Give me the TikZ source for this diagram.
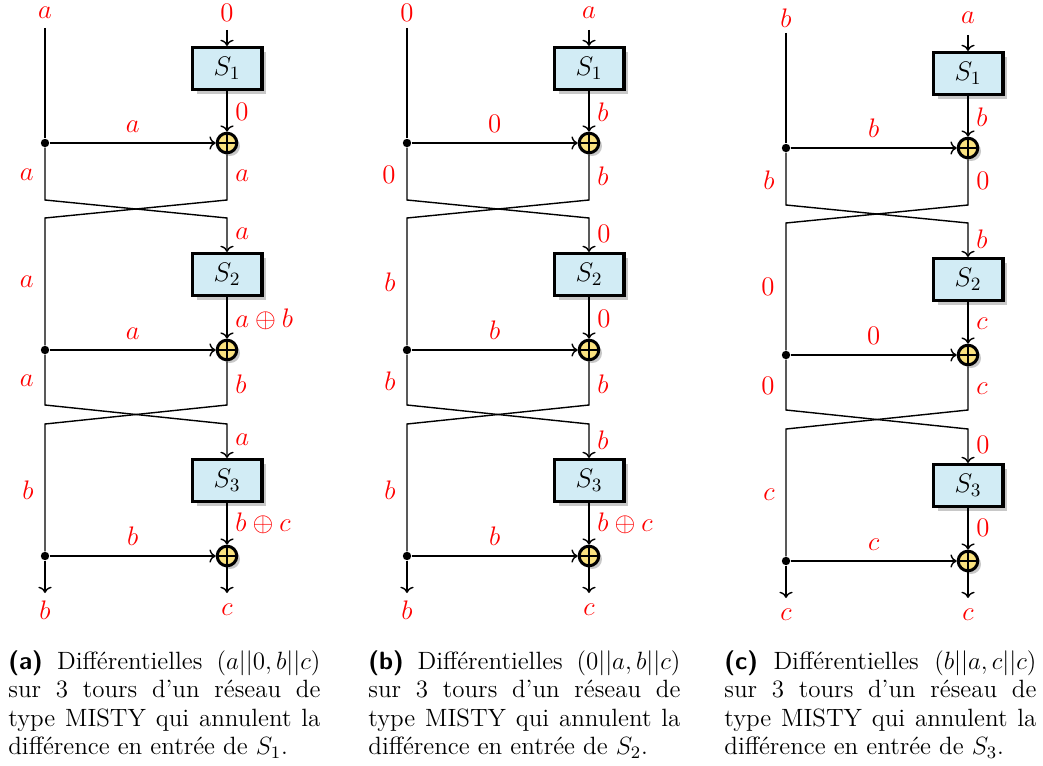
\RequirePackage{fix-cm}
\documentclass[tikz,border=0pt]{standalone}
\usepackage{fontspec}
\usetikzlibrary{shadows,arrows.meta}
\definecolor{sboxfill}{RGB}{210,236,245}
\definecolor{xorfill}{RGB}{250,226,128}
\definecolor{shadowgray}{RGB}{200,200,200}
\newcommand\lblsize{\fontsize{13.4}{15}\selectfont}
\tikzset{
  wire/.style={line width=0.7pt},
  arr/.style={wire,->},
  sbox/.style={draw, line width=1.6pt, fill=sboxfill, minimum width=34.9pt,
    minimum height=20.9pt, inner sep=0pt, font=\lblsize,
    general shadow={fill=shadowgray, shadow xshift=2.2pt, shadow yshift=-2.2pt}},
  xorgate/.style={circle, draw, line width=1.5pt, fill=xorfill, minimum size=9.8pt,
    inner sep=0pt,
    general shadow={fill=shadowgray, shadow xshift=1.6pt, shadow yshift=-1.6pt},
    path picture={\draw[line width=1.2pt]
      (path picture bounding box.north) -- (path picture bounding box.south)
      (path picture bounding box.west) -- (path picture bounding box.east);}},
  junction/.style={circle, fill, inner sep=0pt, minimum size=4.2pt},
  lbl/.style={text=red, font=\lblsize, inner sep=1pt},
  llbl/.style={lbl, anchor=east},
  rlbl/.style={lbl, anchor=west},
  capt/.style={text width=156pt, align=justify, anchor=north west, inner sep=0pt,
    font=\fontsize{12.5}{14.3}\selectfont}
}
\begin{document}
\begin{tikzpicture}[x=0.5pt,y=-0.5pt]
\useasboundingbox (0,0) rectangle (1043,765);
\foreach \dx/\dy/\tL/\tR/\sA/\hA/\bLA/\bRA/\cRA/\cLA/\sB/\hB/\bLB/\bRB/\cRB/\cLB/\sC/\hC/\oL/\oR/\p in {
  0/0/a/0/0/a/a/a/a/a/a\oplus b/a/a/b/a/b/b\oplus c/b/b/c/A,
  362/0/0/a/b/0/0/b/0/b/0/b/b/b/b/b/b\oplus c/b/b/c/B,
  741/5/b/a/b/b/b/0/b/0/c/0/0/c/0/c/0/c/c/c/C}{
\begin{scope}[shift={(\dx,\dy)}]
  % structure
  \coordinate (\p-tl) at (45,28);
  \coordinate (\p-tr) at (227,30);
  \node[sbox] (\p-s1) at (227,68.5) {$S_1$};
  \node[xorgate] (\p-x1) at (227,143) {};
  \node[junction] (\p-j1) at (45,143) {};
  \coordinate (\p-l1) at (45,200);
  \coordinate (\p-r1) at (227,200);
  \coordinate (\p-l1b) at (45,218);
  \coordinate (\p-r1b) at (227,218);
  \node[sbox] (\p-s2) at (227,274.5) {$S_2$};
  \node[xorgate] (\p-x2) at (227,350) {};
  \node[junction] (\p-j2) at (45,350) {};
  \coordinate (\p-l2) at (45,405);
  \coordinate (\p-r2) at (227,405);
  \coordinate (\p-l2b) at (45,424);
  \coordinate (\p-r2b) at (227,424);
  \node[sbox] (\p-s3) at (227,480.5) {$S_3$};
  \node[xorgate] (\p-x3) at (227,556) {};
  \node[junction] (\p-j3) at (45,556) {};
  \coordinate (\p-ol) at (45,593);
  \coordinate (\p-or) at (227,593);
  % wires
  \draw[wire] (\p-tl) -- (\p-j1);
  \draw[arr] (\p-tr) -- (\p-s1);
  \draw[arr] (\p-s1) -- (\p-x1);
  \draw[arr] (\p-j1) -- node[lbl, above=4pt] (\p-h1) {$\hA$} (\p-x1);
  \draw[arr] (\p-j1) -- (\p-l1) -- (\p-r1b) -- (\p-s2);
  \draw[wire] (\p-x1) -- (\p-r1) -- (\p-l1b) -- (\p-j2);
  \draw[arr] (\p-s2) -- (\p-x2);
  \draw[arr] (\p-j2) -- node[lbl, above=4pt] (\p-h2) {$\hB$} (\p-x2);
  \draw[arr] (\p-j2) -- (\p-l2) -- (\p-r2b) -- (\p-s3);
  \draw[wire] (\p-x2) -- (\p-r2) -- (\p-l2b) -- (\p-j3);
  \draw[arr] (\p-s3) -- (\p-x3);
  \draw[arr] (\p-j3) -- node[lbl, above=4pt] (\p-h3) {$\hC$} (\p-x3);
  \draw[arr] (\p-j3) -- (\p-ol);
  \draw[arr] (\p-x3) -- (\p-or);
  % labels
  \node[lbl] (\p-ltl) at (45,13) {$\tL$};
  \node[lbl] (\p-ltr) at (227,13) {$\tR$};
  \node[rlbl] (\p-la1) at (233,112) {$\sA$};
  \node[llbl] (\p-lb1) at (36,175) {$\bLA$};
  \node[rlbl] (\p-lc1) at (233,176) {$\bRA$};
  \node[rlbl] (\p-ld1) at (233,234) {$\cRA$};
  \node[llbl] (\p-le1) at (36,282) {$\cLA$};
  \node[rlbl] (\p-la2) at (233,319) {$\sB$};
  \node[llbl] (\p-lb2) at (36,381) {$\bLB$};
  \node[rlbl] (\p-lc2) at (233,384) {$\bRB$};
  \node[rlbl] (\p-ld2) at (233,440) {$\cRB$};
  \node[llbl] (\p-le2) at (36,490) {$\cLB$};
  \node[rlbl] (\p-la3) at (233,523) {$\sC$};
  \node[lbl] (\p-lol) at (45,610) {$\oL$};
  \node[lbl] (\p-lor) at (227,610) {$\oR$};
\end{scope}
}
% captions
\node[capt] (capa) at (8,650) {\textsf{\textbf{(a)}} Différentielles $(a||0,b||c)$\linebreak sur 3 tours d’un réseau de\linebreak type MISTY qui annulent la\linebreak différence en entrée de $S_1$.};
\node[capt] (capb) at (368,650) {\textsf{\textbf{(b)}} Différentielles $(0||a,b||c)$\linebreak sur 3 tours d’un réseau de\linebreak type MISTY qui annulent la\linebreak différence en entrée de $S_2$.};
\node[capt] (capc) at (724,650) {\textsf{\textbf{(c)}} Différentielles $(b||a,c||c)$\linebreak sur 3 tours d’un réseau de\linebreak type MISTY qui annulent la\linebreak différence en entrée de $S_3$.};
\end{tikzpicture}
\end{document}
